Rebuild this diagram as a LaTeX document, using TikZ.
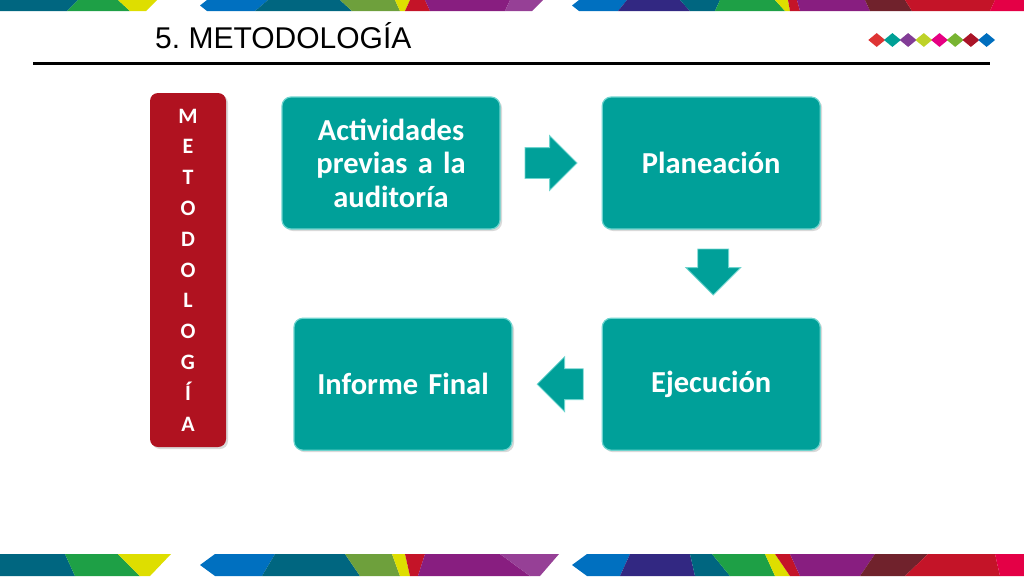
\documentclass[tikz,border=0pt]{standalone}
\usepackage{fontspec}
\setmainfont{Carlito}
\newfontfamily\titlefont{Liberation Sans}
\usepackage{tikz}
\usetikzlibrary{calc}
\usetikzlibrary{positioning}
\usetikzlibrary{shapes.arrows}
\usetikzlibrary{shapes.geometric}
\usetikzlibrary{shadows}

\definecolor{boxteal}{RGB}{0,160,153}
\definecolor{boxrim}{RGB}{110,212,206}
\definecolor{metred}{RGB}{176,18,32}
\definecolor{cblue}{RGB}{0,112,192}
\definecolor{cdteal}{RGB}{0,102,128}
\definecolor{cgreen}{RGB}{30,160,70}
\definecolor{colive}{RGB}{110,160,60}
\definecolor{cyellow}{RGB}{222,222,0}
\definecolor{cred}{RGB}{196,20,40}
\definecolor{cpurple}{RGB}{136,30,128}
\definecolor{clpurple}{RGB}{150,64,150}
\definecolor{cindigo}{RGB}{50,40,130}
\definecolor{cmaroon}{RGB}{112,34,44}
\definecolor{cpink}{RGB}{228,0,70}
\definecolor{dred}{RGB}{222,52,52}
\definecolor{dteal}{RGB}{0,160,150}
\definecolor{dpurple}{RGB}{130,60,150}
\definecolor{dlime}{RGB}{190,210,40}
\definecolor{dmagenta}{RGB}{230,0,130}
\definecolor{dgreen}{RGB}{120,180,50}
\definecolor{ddark}{RGB}{170,20,40}
\definecolor{dblue}{RGB}{0,110,190}

\tikzset{stage/.style={rounded corners=9pt,fill=boxteal,draw=boxrim,line width=1.2pt,
  minimum width=218pt,minimum height=132pt,text width=210pt,align=center,text=white,
  font=\fontsize{30.5}{33.5}\selectfont\bfseries,
  drop shadow={shadow xshift=2pt,shadow yshift=-2pt,opacity=0.3}}}
\tikzset{flowarrow/.style={single arrow,fill=boxteal,draw=boxrim,line width=0.8pt,
  minimum height=50pt,single arrow head extend=12pt,inner xsep=0pt,inner ysep=15pt,anchor=tail}}
\tikzset{flowdown/.style={flowarrow,shape border rotate=270,inner xsep=15pt,inner ysep=0pt,minimum height=46pt}}
\tikzset{metbar/.style={rounded corners=8pt,fill=metred,minimum width=76pt,minimum height=354pt,
  align=center,text=white,font=\fontsize{22}{30.8}\selectfont\bfseries,
  drop shadow={shadow xshift=2pt,shadow yshift=-2pt,opacity=0.3}}}
\tikzset{gem/.style={diamond,minimum width=17pt,minimum height=14pt,inner sep=0pt}}

\newcommand{\bandpiece}[5]{\fill[#1] (#2,\bandtop) -- (#3,\bandtop) -- (#5,\bandbot) -- (#4,\bandbot) -- cycle;}
\newcommand{\bandtip}[5]{\fill[#1] (#2,\bandmid) -- (#3,\bandtop) -- (#4,\bandtop) -- (#5,\bandbot) -- (#3,\bandbot) -- cycle;}

\begin{document}
\begin{tikzpicture}[x=1pt,y=-1pt]
\useasboundingbox (0,0) rectangle (1024,576);

% colour bands
\def\bandtop{0}\def\bandbot{11}\def\bandmid{5.5}
\bandpiece{cdteal}{0}{78}{0}{67}
\bandpiece{cgreen}{78}{118}{67}{130}
\bandpiece{cyellow}{118}{157}{130}{146}
\bandtip{cblue}{200}{207}{268}{255}
\bandpiece{cdteal}{268}{340}{255}{352}
\bandpiece{colive}{340}{395}{352}{400}
\bandpiece{cyellow}{395}{410}{400}{405}
\bandpiece{cred}{410}{425}{405}{430}
\bandpiece{cpurple}{425}{510}{430}{505}
\bandpiece{clpurple}{510}{543}{505}{532}
\bandtip{cblue}{572}{579}{627}{618}
\bandpiece{cindigo}{627}{680}{618}{690}
\bandpiece{cdteal}{680}{720}{690}{715}
\bandpiece{cgreen}{720}{775}{715}{785}
\bandpiece{cyellow}{775}{788}{785}{790}
\bandpiece{cred}{788}{797}{790}{800}
\bandpiece{cpurple}{797}{865}{800}{870}
\bandpiece{cmaroon}{865}{905}{870}{912}
\bandpiece{cred}{905}{995}{912}{990}
\bandpiece{cpink}{995}{1024}{990}{1024}

\def\bandtop{554}\def\bandbot{576}\def\bandmid{565}
\bandpiece{cdteal}{0}{65}{0}{75}
\bandpiece{cgreen}{65}{118}{75}{140}
\bandpiece{cyellow}{118}{171}{140}{150}
\bandtip{cblue}{200}{215}{275}{262}
\bandpiece{cdteal}{275}{345}{262}{360}
\bandpiece{colive}{345}{392}{360}{400}
\bandpiece{cyellow}{392}{405}{400}{410}
\bandpiece{cred}{405}{425}{410}{418}
\bandpiece{cpurple}{425}{500}{418}{530}
\bandpiece{clpurple}{500}{559}{530}{540}
\bandtip{cblue}{572}{587}{630}{620}
\bandpiece{cindigo}{630}{690}{620}{695}
\bandpiece{cdteal}{690}{712}{695}{730}
\bandpiece{cgreen}{712}{765}{730}{775}
\bandpiece{cyellow}{765}{775}{775}{790}
\bandpiece{cred}{775}{790}{790}{800}
\bandpiece{cpurple}{790}{875}{800}{860}
\bandpiece{cmaroon}{875}{928}{860}{905}
\bandpiece{cred}{928}{995}{905}{1000}
\bandpiece{cpink}{995}{1024}{1000}{1024}

% title
\node[anchor=base west,inner sep=0pt,font=\titlefont\fontsize{30}{34}\selectfont] (title) at (155,48) {5.\ METODOLOGÍA};
\coordinate (rulel) at (33,63);
\coordinate (ruler) at (990,63);
\draw[line width=3pt] (rulel) -- (ruler);
\foreach \c [count=\i] in {dred,dteal,dpurple,dlime,dmagenta,dgreen,ddark,dblue}
  \node[gem,fill=\c] (gem\i) at (861+\i*15.7,40) {};

% steps
\node[metbar] (met) at (188,270) {M\\E\\T\\O\\D\\O\\L\\O\\G\\Í\\A};
\node[stage] (act) at (391,163) {Actividades\\previas a la\\auditoría};
\node[stage,right=101pt of act] (plan) {Planeación};
\node[stage,below=88pt of plan] (ejec) {Ejecución};
\node[stage,left=89pt of ejec] (inf) {Informe Final};

\node[flowarrow,minimum height=52pt] (arr1) at ($(act.east)+(24,0)$) {};
\node[flowdown] (arr2) at ($(plan.south)+(2,19)$) {};
\node[flowarrow,shape border rotate=180,minimum height=46pt] (arr3) at ($(ejec.west)+(-18,0)$) {};

\end{tikzpicture}
\end{document}
